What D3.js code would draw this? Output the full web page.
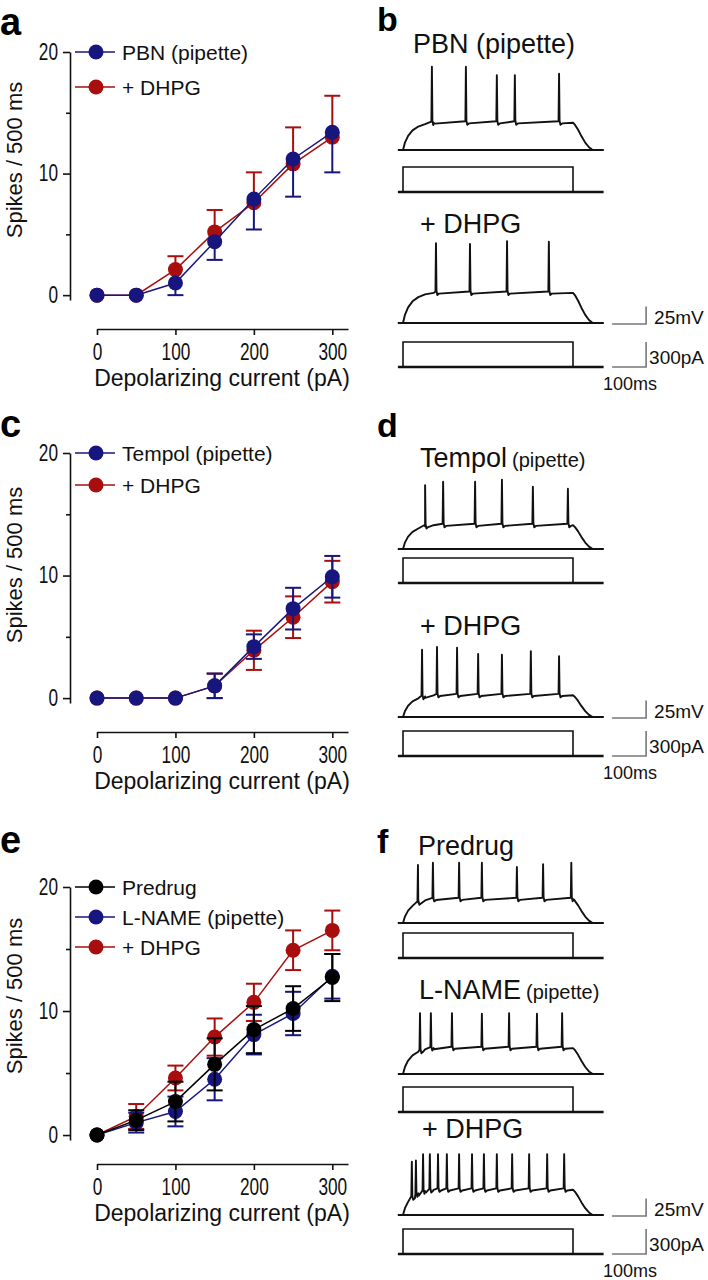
<!DOCTYPE html>
<html>
<head>
<meta charset="utf-8">
<script src="https://cdn.jsdelivr.net/npm/d3@7"></script>
<style>
  body { margin: 0; background: #fff; }
  svg { display: block; font-family: "Liberation Sans", Arial, sans-serif; }
</style>
</head>
<body>
<script>
"use strict";

// ---- f-I curves (spikes / 500 ms vs depolarizing current) ----
const currents = [0, 50, 100, 150, 200, 250, 300];
const xTicks = [0, 100, 200, 300];
const yTicks = [0, 10, 20];
const yMinorTicks = [5, 15];

// panel a
const pbnMean = [0, 0, 1.0, 4.4, 7.9, 11.2, 13.4];
const pbnErr = [0, 0, 1.0, 1.5, 2.5, 3.1, 3.3];
const pbnDhpgMean = [0, 0, 2.1, 5.2, 7.6, 10.8, 13.0];
const pbnDhpgErr = [0, 0, 1.1, 1.8, 2.5, 3.0, 3.4];

// panel c
const tempolMean = [0, 0, 0, 1.0, 4.2, 7.3, 9.9];
const tempolErr = [0, 0, 0, 1.0, 1.0, 1.7, 1.7];
const tempolDhpgMean = [0, 0, 0, 1.0, 3.9, 6.6, 9.5];
const tempolDhpgErr = [0, 0, 0, 1.0, 1.6, 1.7, 1.7];

// panel e
const predrugMean = [0, 1.2, 2.7, 5.7, 8.5, 10.2, 12.7];
const predrugErr = [0, 0.8, 1.6, 2.1, 1.9, 1.8, 1.9];
const lnameMean = [0, 1.0, 1.9, 4.5, 8.1, 9.8, 12.8];
const lnameErr = [0, 0.8, 1.2, 1.7, 1.6, 1.75, 1.8];
const lnameDhpgMean = [0, 1.5, 4.6, 7.9, 10.7, 14.9, 16.5];
const lnameDhpgErr = [0, 1.0, 1.0, 1.5, 1.5, 1.6, 1.6];

// ---- example traces: spike times (ms from step onset) and peaks (mV above rest) ----
const pbnSpikes = [85, 185, 276, 329, 459];
const pbnPeaks = [119, 119, 107, 107, 109];
const pbnDhpgSpikes = [97, 197, 306, 429];
const pbnDhpgPeaks = [114, 113, 117, 116];
const tempolSpikes = [65, 118, 212, 291, 382, 485];
const tempolPeaks = [91, 96, 96, 99, 89, 86];
const tempolDhpgSpikes = [56, 100, 159, 221, 291, 376, 459];
const tempolDhpgPeaks = [96, 100, 99, 90, 89, 94, 87];
const predrugSpikes = [44, 88, 165, 232, 335, 412, 495];
const predrugPeaks = [83, 86, 86, 86, 80, 84, 86];
const lnameSpikes = [50, 82, 144, 232, 312, 394, 468];
const lnamePeaks = [87, 87, 87, 86, 87, 86, 87];
const lnameDhpgSpikes = [26, 38, 59, 79, 103, 129, 165, 203, 238, 276, 321, 371, 424, 474];
const lnameDhpgPeaks = [76, 78, 87, 87, 87, 87, 87, 87, 87, 87, 87, 87, 87, 87];

// plateau depolarisation (mV) for each trace, step amplitude (pA), step length (ms)
const plateaus = { pbn: 39, pbnDhpg: 43, tempol: 34, tempolDhpg: 31, predrug: 34, lname: 37, lnameDhpg: 36 };
const stepCurrent = 300;
const stepLength = 500;
// membrane charging / discharging shape (ms, fraction of plateau)
const riseShape = [[0, 0], [6, 0.28], [15, 0.52], [28, 0.72], [45, 0.86], [65, 0.95], [90, 1]];
const decayShape = [[0, 1], [6, 0.92], [15, 0.74], [25, 0.5], [36, 0.27], [47, 0.1], [58, 0]];
const scaleBar = { mV: 25, pA: 300, ms: 100 };

const NAVY = "#16167e", RED = "#a80e0e", BLACK = "#000";

const svg = d3.select("body").append("svg").attr("width", 708).attr("height", 1280);

const x = d3.scaleLinear().domain([0, 320]).range([97, 348]);

function drawCurves(p) {
    const y = d3.scaleLinear().domain([-0.4, 20]).range([p.bottom, p.top]);
    const g = svg.append("g");

    g.append("text").attr("x", 0).attr("y", p.labelY)
        .attr("font-size", 38).attr("font-weight", "bold").text(p.label);

    const ya = g.append("g").attr("transform", "translate(70,0)")
        .call(d3.axisLeft(y).tickValues(yTicks).tickSize(7).tickSizeOuter(0));
    g.append("g").attr("transform", "translate(70,0)")
        .call(d3.axisLeft(y).tickValues(yMinorTicks).tickSize(4).tickFormat(""))
        .call(a => a.select(".domain").remove());
    ya.attr("font-size", null).attr("font-family", null);
    ya.selectAll(".tick text").attr("x", -16).attr("transform", "scale(0.75,1)")
        .attr("font-size", 23).attr("fill", "#111");

    const xa = g.append("g").attr("transform", `translate(0,${p.axisY})`)
        .call(d3.axisBottom(x).tickValues(xTicks).tickSize(6).tickSizeOuter(0));
    xa.attr("font-size", null).attr("font-family", null);
    xa.selectAll(".tick text").attr("y", 31).attr("dy", 0).attr("transform", "scale(0.75,1)")
        .attr("font-size", 23).attr("fill", "#111");

    g.selectAll(".domain, .tick line").attr("stroke", "#111").attr("stroke-width", 1.6);

    g.append("text")
        .attr("transform", `translate(22,${p.titleY}) rotate(-90)`)
        .attr("text-anchor", "middle").attr("font-size", 22).attr("fill", "#111")
        .text("Spikes / 500 ms");
    g.append("text").attr("x", 222).attr("y", p.axisY + 57)
        .attr("text-anchor", "middle").attr("font-size", 23).attr("fill", "#111")
        .text("Depolarizing current (pA)");

    const line = d3.line().x((d, i) => x(currents[i])).y(d => y(d));

    p.series.forEach(s => {
        const sg = g.append("g");
        sg.append("path").attr("d", line(s.mean))
            .attr("fill", "none").attr("stroke", s.color).attr("stroke-width", 1.5);

        const pts = currents.map((c, i) => ({ c: c, m: s.mean[i], e: s.err[i] })).filter(d => d.e > 0);
        pts.forEach(d => {
            const lo = s.side > 0 ? d.m : d.m - d.e;
            const hi = s.side < 0 ? d.m : d.m + d.e;
            sg.append("line").attr("x1", x(d.c)).attr("x2", x(d.c))
                .attr("y1", y(lo)).attr("y2", y(hi))
                .attr("stroke", s.color).attr("stroke-width", 2);
            const caps = [];
            if (s.side >= 0) caps.push(hi);
            if (s.side <= 0) caps.push(lo);
            caps.forEach(v => {
                sg.append("line").attr("x1", x(d.c) - 8).attr("x2", x(d.c) + 8)
                    .attr("y1", y(v)).attr("y2", y(v))
                    .attr("stroke", s.color).attr("stroke-width", 2);
            });
        });

        sg.selectAll("circle").data(s.mean).enter().append("circle")
            .attr("cx", (d, i) => x(currents[i])).attr("cy", d => y(d))
            .attr("r", 7.5).attr("fill", s.color);

        // legend
        sg.append("line").attr("x1", 75).attr("x2", 115)
            .attr("y1", s.legendY).attr("y2", s.legendY)
            .attr("stroke", s.color).attr("stroke-width", 1.5);
        sg.append("circle").attr("cx", 96).attr("cy", s.legendY).attr("r", 7.5).attr("fill", s.color);
        sg.append("text").attr("x", 122).attr("y", s.legendY + 7.5)
            .attr("font-size", 21).attr("fill", "#111").text(s.name);
    });
}

drawCurves({
    label: "a", labelY: 35, top: 52, bottom: 300, axisY: 329, titleY: 160,
    series: [
        { name: "+ DHPG", mean: pbnDhpgMean, err: pbnDhpgErr, color: RED, side: 1, legendY: 87 },
        { name: "PBN (pipette)", mean: pbnMean, err: pbnErr, color: NAVY, side: -1, legendY: 52 }
    ]
});
drawCurves({
    label: "c", labelY: 437, top: 453, bottom: 703, axisY: 732, titleY: 565,
    series: [
        { name: "+ DHPG", mean: tempolDhpgMean, err: tempolDhpgErr, color: RED, side: 0, legendY: 485 },
        { name: "Tempol (pipette)", mean: tempolMean, err: tempolErr, color: NAVY, side: 0, legendY: 453 }
    ]
});
drawCurves({
    label: "e", labelY: 853, top: 887, bottom: 1140, axisY: 1164, titleY: 996,
    series: [
        { name: "+ DHPG", mean: lnameDhpgMean, err: lnameDhpgErr, color: RED, side: 0, legendY: 947 },
        { name: "L-NAME (pipette)", mean: lnameMean, err: lnameErr, color: NAVY, side: 0, legendY: 917 },
        { name: "Predrug", mean: predrugMean, err: predrugErr, color: BLACK, side: 0, legendY: 887 }
    ]
});

// ---- traces ----
const T_START = -15, T_END = 590;
const t = d3.scaleLinear().domain([0, stepLength]).range([403, 573]);
const riseLevel = d3.scaleLinear().domain(riseShape.map(d => d[0])).range(riseShape.map(d => d[1])).clamp(true);

function voltagePoints(spikes, peaks, plateau) {
    const pts = [[T_START, 0], [0, 0]];
    riseShape.forEach(d => pts.push([d[0], d[1] * plateau]));
    spikes.forEach((ts, i) => {
        const b = plateau * riseLevel(ts);
        pts.push([ts - 1.5, b + 2], [ts, peaks[i]], [ts + 1.5, b + 3], [ts + 4, b - 3], [ts + 9, b - 1]);
    });
    decayShape.forEach(d => pts.push([stepLength + d[0], d[1] * plateau]));
    pts.push([T_END, 0]);
    return pts.sort((a, b) => a[0] - b[0]);
}

function drawTraces(p) {
    const g = svg.append("g");
    g.append("text").attr("x", 377).attr("y", p.labelY)
        .attr("font-size", 34).attr("font-weight", "bold").text(p.label);

    let v, iy;
    p.rows.forEach(r => {
        const title = g.append("text").attr("x", r.titleX).attr("y", r.titleY)
            .attr("font-size", 27).attr("fill", "#111").text(r.title);
        if (r.small) title.append("tspan").attr("font-size", 20).attr("dx", 5).text(r.small);

        v = d3.scaleLinear().domain([0, scaleBar.mV]).range([r.vBase, r.vBase - 17.5]);
        iy = d3.scaleLinear().domain([0, scaleBar.pA]).range([r.iBase, r.iBase - 25]);
        const vLine = d3.line().x(d => t(d[0])).y(d => v(d[1]));
        const iLine = d3.line().x(d => t(d[0])).y(d => iy(d[1]));

        g.append("path").attr("d", vLine([[T_START, 0], [T_END, 0]]))
            .attr("fill", "none").attr("stroke", "#111").attr("stroke-width", 2.2);
        g.append("path").attr("d", vLine(voltagePoints(r.spikes, r.peaks, r.plateau)))
            .attr("fill", "none").attr("stroke", "#111").attr("stroke-width", 1.9)
            .attr("stroke-linejoin", "round");

        g.append("path").attr("d", iLine([[T_START, 0], [T_END, 0]]))
            .attr("fill", "none").attr("stroke", "#111").attr("stroke-width", 2.4);
        g.append("path")
            .attr("d", iLine([[0, 0], [0, stepCurrent], [stepLength, stepCurrent], [stepLength, 0]]))
            .attr("fill", "none").attr("stroke", "#111").attr("stroke-width", 1.6);
    });

    // scale bars, anchored on the last row
    const x0 = t(615), x1 = t(615 + scaleBar.ms);
    const yv = v(0) + 1;
    g.append("path")
        .attr("d", `M${x0},${yv}H${x1}V${yv - (v(0) - v(scaleBar.mV))}`)
        .attr("fill", "none").attr("stroke", "#777").attr("stroke-width", 1.6);
    g.append("text").attr("x", x1 + 8).attr("y", yv).attr("font-size", 19).attr("fill", "#111").text("25mV");
    const yi = iy(0);
    g.append("path")
        .attr("d", `M${x0},${yi}H${x1}V${iy(scaleBar.pA)}`)
        .attr("fill", "none").attr("stroke", "#777").attr("stroke-width", 1.6);
    g.append("text").attr("x", x1 + 3).attr("y", yi - 3).attr("font-size", 19).attr("fill", "#111").text("300pA");
    g.append("text").attr("x", 603).attr("y", yi + 23).attr("font-size", 18).attr("fill", "#111").text("100ms");
}

drawTraces({
    label: "b", labelY: 31,
    rows: [
        { title: "PBN (pipette)", titleX: 413, titleY: 53, vBase: 150, iBase: 192,
          spikes: pbnSpikes, peaks: pbnPeaks, plateau: plateaus.pbn },
        { title: "+ DHPG", titleX: 420, titleY: 233, vBase: 323, iBase: 367,
          spikes: pbnDhpgSpikes, peaks: pbnDhpgPeaks, plateau: plateaus.pbnDhpg }
    ]
});
drawTraces({
    label: "d", labelY: 437,
    rows: [
        { title: "Tempol", small: "(pipette)", titleX: 420, titleY: 467, vBase: 549, iBase: 583,
          spikes: tempolSpikes, peaks: tempolPeaks, plateau: plateaus.tempol },
        { title: "+ DHPG", titleX: 420, titleY: 635, vBase: 717, iBase: 756,
          spikes: tempolDhpgSpikes, peaks: tempolDhpgPeaks, plateau: plateaus.tempolDhpg }
    ]
});
drawTraces({
    label: "f", labelY: 853,
    rows: [
        { title: "Predrug", titleX: 418, titleY: 855, vBase: 923, iBase: 958,
          spikes: predrugSpikes, peaks: predrugPeaks, plateau: plateaus.predrug },
        { title: "L-NAME", small: "(pipette)", titleX: 419, titleY: 999, vBase: 1074, iBase: 1112,
          spikes: lnameSpikes, peaks: lnamePeaks, plateau: plateaus.lname },
        { title: "+ DHPG", titleX: 422, titleY: 1138, vBase: 1215, iBase: 1254,
          spikes: lnameDhpgSpikes, peaks: lnameDhpgPeaks, plateau: plateaus.lnameDhpg }
    ]
});
</script>
</body>
</html>
